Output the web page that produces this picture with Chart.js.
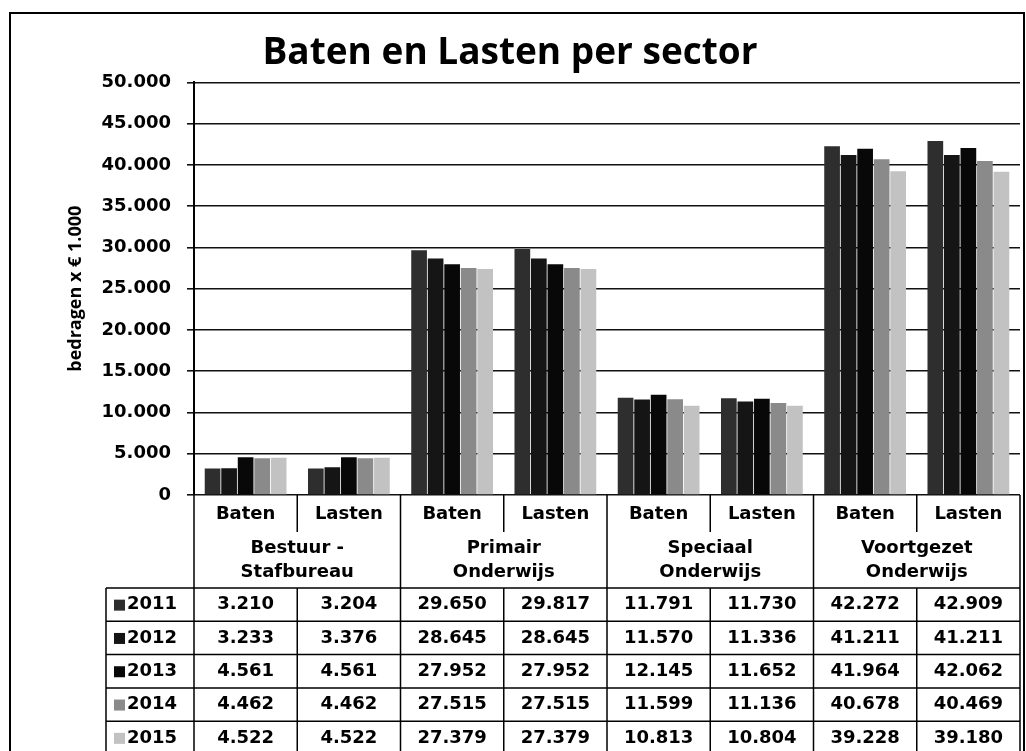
<!DOCTYPE html>
<html>
<head>
<meta charset="utf-8">
<script src="https://cdn.jsdelivr.net/npm/chart.js@4/dist/chart.umd.min.js"></script>
<style>
  html, body { margin: 0; padding: 0; background: #fff; overflow: hidden; }
  #wrap { position: relative; width: 1026px; height: 751px; }
</style>
</head>
<body>
<div id="wrap"><canvas id="c"></canvas></div>
<script>
// ---- data ----
const categories = ['Baten', 'Lasten', 'Baten', 'Lasten', 'Baten', 'Lasten', 'Baten', 'Lasten'];
const sectors = [['Bestuur -', 'Stafbureau'], ['Primair', 'Onderwijs'], ['Speciaal', 'Onderwijs'], ['Voortgezet', 'Onderwijs']];
const years = ['2011', '2012', '2013', '2014', '2015'];
const values2011 = [3210, 3204, 29650, 29817, 11791, 11730, 42272, 42909];
const values2012 = [3233, 3376, 28645, 28645, 11570, 11336, 41211, 41211];
const values2013 = [4561, 4561, 27952, 27952, 12145, 11652, 41964, 42062];
const values2014 = [4462, 4462, 27515, 27515, 11599, 11136, 40678, 40469];
const values2015 = [4522, 4522, 27379, 27379, 10813, 10804, 39228, 39180];
const seriesValues = [values2011, values2012, values2013, values2014, values2015];
const seriesColors = ['#2e2e2e', '#151515', '#080808', '#8a8a8a', '#c2c2c2'];
const yTicksMax = 50000;
const yTicksStep = 5000;
const chartTitle = 'Baten en Lasten per sector';
const yAxisTitle = 'bedragen x € 1.000';

function fmt(v) {
  return String(v).replace(/\B(?=(\d{3})+(?!\d))/g, '.');
}

const TABLE_FONT = 'bold 18px "DejaVu Sans"';

const framePlugin = {
  id: 'frame',
  beforeDraw(chart) {
    const ctx = chart.ctx;
    ctx.save();
    ctx.fillStyle = '#fff';
    ctx.fillRect(0, 0, chart.width, chart.height);
    ctx.strokeStyle = '#000';
    ctx.lineWidth = 2;
    ctx.strokeRect(10, 13, 1014, 760);
    ctx.restore();
  }
};

const tablePlugin = {
  id: 'dataTable',
  afterDraw(chart) {
    const ctx = chart.ctx;
    const area = chart.chartArea;
    const x = chart.scales.x;
    const n = categories.length;
    const cw = x.getPixelForValue(1) - x.getPixelForValue(0);
    const bottom = area.bottom;
    const hdr1Bottom = bottom + 37;
    const dataTop = bottom + 93;
    const rowH = 33.3;
    const tableLeft = 106;
    const tableBottom = 770;

    ctx.save();
    ctx.strokeStyle = '#000';
    ctx.lineWidth = 1.5;
    ctx.beginPath();
    for (let i = 0; i <= n; i++) {
      const xi = i < n ? x.getPixelForValue(i) - cw / 2 : x.getPixelForValue(n - 1) + cw / 2;
      if (i % 2 === 0) {
        ctx.moveTo(xi, bottom); ctx.lineTo(xi, tableBottom);
      } else {
        ctx.moveTo(xi, bottom); ctx.lineTo(xi, hdr1Bottom);
        ctx.moveTo(xi, dataTop); ctx.lineTo(xi, tableBottom);
      }
    }
    const rightEdge = x.getPixelForValue(n - 1) + cw / 2;
    for (let k = 0; k < years.length; k++) {
      const yk = dataTop + k * rowH;
      ctx.moveTo(tableLeft, yk); ctx.lineTo(rightEdge, yk);
    }
    ctx.moveTo(tableLeft, dataTop); ctx.lineTo(tableLeft, tableBottom);
    ctx.stroke();

    ctx.fillStyle = '#000';
    ctx.font = TABLE_FONT;
    ctx.textAlign = 'center';
    ctx.textBaseline = 'middle';
    for (let i = 0; i < n; i++) {
      ctx.fillText(categories[i], x.getPixelForValue(i), bottom + 19);
    }
    for (let s = 0; s < sectors.length; s++) {
      const cx = (x.getPixelForValue(2 * s) + x.getPixelForValue(2 * s + 1)) / 2;
      ctx.fillText(sectors[s][0], cx, bottom + 53);
      ctx.fillText(sectors[s][1], cx, bottom + 77);
    }
    for (let k = 0; k < years.length; k++) {
      const yc = dataTop + rowH * (k + 0.5);
      for (let i = 0; i < n; i++) {
        ctx.fillStyle = '#000';
        ctx.textAlign = 'center';
        ctx.fillText(fmt(seriesValues[k][i]), x.getPixelForValue(i), yc);
      }
      ctx.fillStyle = seriesColors[k];
      ctx.fillRect(114, yc - 5, 11, 11);
      ctx.fillStyle = '#000';
      ctx.textAlign = 'left';
      ctx.fillText(years[k], 127, yc);
    }
    ctx.restore();
  }
};

new Chart(document.getElementById('c'), {
  type: 'bar',
  data: {
    labels: categories,
    datasets: years.map((yr, k) => ({
      label: yr,
      data: seriesValues[k],
      backgroundColor: seriesColors[k],
      borderWidth: 0,
      categoryPercentage: 0.8,
      barPercentage: 0.95
    }))
  },
  options: {
    responsive: true,
    maintainAspectRatio: false,
    animation: false,
    devicePixelRatio: 1,
    layout: { padding: { top: 13, left: 0, right: 6, bottom: 256 } },
    plugins: {
      legend: { display: false },
      tooltip: { enabled: false },
      title: {
        display: true,
        text: chartTitle,
        color: '#000',
        font: { family: '"Open Sans"', size: 37, weight: 'bold' },
        padding: { top: 18, bottom: 7 }
      }
    },
    scales: {
      x: { display: false },
      y: {
        min: 0,
        max: yTicksMax,
        afterFit(scale) { scale.width = 194; },
        ticks: {
          stepSize: yTicksStep,
          color: '#000',
          padding: 16,
          font: { family: '"DejaVu Sans"', size: 18, weight: 'bold' },
          callback: (v) => fmt(v)
        },
        grid: { color: '#111', lineWidth: 1.6, tickLength: 7, drawTicks: true },
        border: { display: true, color: '#000', width: 2 },
        title: {
          display: true,
          text: yAxisTitle,
          color: '#000',
          font: { family: '"Open Sans"', size: 18, weight: 'bold' },
          padding: { top: 65, bottom: 0 }
        }
      }
    }
  },
  plugins: [framePlugin, tablePlugin]
});
</script>
</body>
</html>
